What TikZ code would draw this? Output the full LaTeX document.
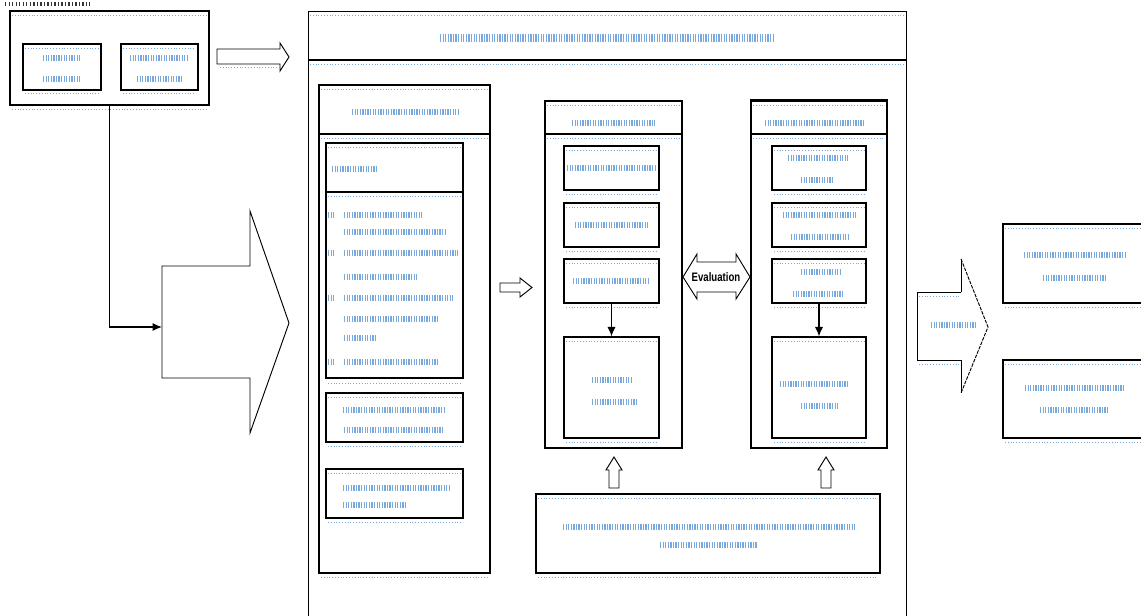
\documentclass[tikz,border=0pt]{standalone}
\usepackage{fontspec}
\setmainfont{Liberation Sans}
\newfontfamily\evfont{Liberation Sans}[FakeStretch=0.78]
\usetikzlibrary{arrows.meta,fit,calc}
\definecolor{garbc}{RGB}{120,168,222}
\newcommand\gbl[3]{\draw[garb] (#1,#3) -- (#2,#3);}
\newcommand\edd[3]{\draw[edot] (#1,#3) -- (#2,#3);}
\begin{document}
\begin{tikzpicture}[x=0.03cm,y=-0.03cm,
  box/.style={draw=black, line width=1.1pt, inner sep=0pt},
  thinbox/.style={draw=black, line width=0.8pt, inner sep=0pt},
  hollow/.style={draw=black, line width=0.8pt, fill=white, line join=miter},
  conn/.style={draw=black, line width=1.1pt, -{Latex[length=8pt,width=7pt]}},
  garb/.style={draw=garbc, line width=5.5pt, dash pattern=on 1.1pt off 1.1pt},
  dk/.style={draw=black!80, line width=3pt, dash pattern=on 1.2pt off 1.8pt},
  edot/.style={draw=garbc, line width=0.7pt, dash pattern=on 0.8pt off 1.6pt}]
\useasboundingbox (0,0) rectangle (1141,616);

% ---------- top-left group ----------
\draw[dk] (5,4) -- (90,4);
\node[box, fit={(10,11)(209,105)}] (tl) {};
\node[box, fit={(23,44)(101,90)}] (ta) {};
\node[box, fit={(121,44)(198,90)}] (tb) {};
\edd{12}{207}{15} \edd{12}{207}{109}
\edd{25}{99}{48} \edd{123}{196}{48} \edd{123}{196}{93} \edd{25}{99}{93}
\gbl{43}{81}{58} \gbl{43}{81}{79}
\gbl{130}{188}{58} \gbl{137}{181}{79}

\draw[hollow] (217,49) -- (280,49) -- (280,43) -- (289,57) -- (280,71) -- (280,64) -- (217,64) -- cycle;
\edd{220}{280}{67}

% big left arrow
\draw[hollow] (162,266) -- (250,266) -- (250,211) -- (289,323) -- (250,433) -- (250,378) -- (162,378) -- cycle;
\coordinate (bigL) at (162,327);
\draw[conn] (tl.south) |- (bigL);

% ---------- main box ----------
\node[thinbox, fit={(308,11)(906,622)}] (main) {};
\draw[box] (main.west |- 0,60) -- (main.east |- 0,60);
\edd{310}{904}{15} \edd{310}{904}{64}
\draw[garb, line width=7pt] (440,38) -- (775,38);

% left column
\node[box, fit={(319,85)(490,573)}] (lc) {};
\draw[box] (lc.west |- 0,134) -- (lc.east |- 0,134);
\edd{321}{488}{89} \edd{321}{488}{138} \edd{321}{488}{577}
\gbl{352}{458}{112}
\node[box, fit={(326,143)(463,378)}] (lb) {};
\draw[box] (lb.west |- 0,192) -- (lb.east |- 0,192);
\edd{328}{461}{147} \edd{328}{461}{196} \edd{328}{461}{383}
\gbl{332}{378}{169}
\gbl{344}{422}{215} \gbl{344}{445}{232} \gbl{344}{458}{253} \gbl{344}{418}{277}
\gbl{344}{453}{298} \gbl{344}{437}{319} \gbl{344}{376}{338} \gbl{344}{437}{362}
\gbl{328}{334}{215} \gbl{328}{334}{253} \gbl{328}{334}{298} \gbl{328}{334}{362}
\node[box, fit={(326,393)(463,442)}] (lc2) {};
\edd{328}{461}{397} \edd{328}{461}{446}
\gbl{343}{444}{410} \gbl{344}{444}{430}
\node[box, fit={(326,469)(463,518)}] (lc3) {};
\edd{328}{461}{473} \edd{328}{461}{522}
\gbl{343}{449}{488} \gbl{343}{406}{505}

% small arrow left -> middle
\draw[hollow] (500,283) -- (520,283) -- (520,278) -- (532,287.5) -- (520,297) -- (520,292) -- (500,292) -- cycle;

% middle column
\node[box, fit={(545,101)(682,448)}] (mc) {};
\draw[box] (mc.west |- 0,134) -- (mc.east |- 0,134);
\edd{547}{680}{105} \edd{547}{680}{138}
\gbl{572}{655}{123}
\node[box, fit={(564,146)(659,190)}] (m1) {};
\node[box, fit={(564,203)(659,247)}] (m2) {};
\node[box, fit={(564,259)(659,303)}] (m3) {};
\node[box, fit={(564,337)(659,438)}] (m4) {};
\edd{566}{657}{150} \edd{566}{657}{194} \edd{566}{657}{207} \edd{566}{657}{251}
\edd{566}{657}{263} \edd{566}{657}{307} \edd{566}{657}{341} \edd{566}{657}{442}
\gbl{567}{657}{168} \gbl{575}{648}{225} \gbl{573}{650}{281}
\gbl{592}{632}{380} \gbl{592}{636}{402}
\draw[conn] (m3) -- (m4);

% right column
\node[box, fit={(751,101)(887,448)}] (rc) {};
\draw[line width=2.2pt] (rc.north west) -- (rc.north east);
\draw[box] (rc.west |- 0,134) -- (rc.east |- 0,134);
\edd{753}{885}{105} \edd{753}{885}{138}
\gbl{765}{863}{123}
\node[box, fit={(772,146)(866,190)}] (r1) {};
\node[box, fit={(772,203)(866,247)}] (r2) {};
\node[box, fit={(772,259)(866,303)}] (r3) {};
\node[box, fit={(772,337)(866,438)}] (r4) {};
\edd{774}{864}{150} \edd{774}{864}{194} \edd{774}{864}{207} \edd{774}{864}{251}
\edd{774}{864}{263} \edd{774}{864}{307} \edd{774}{864}{341} \edd{774}{864}{442}
\gbl{788}{848}{158} \gbl{801}{832}{180}
\gbl{783}{857}{215} \gbl{791}{848}{237}
\gbl{801}{842}{272} \gbl{793}{843}{294}
\gbl{780}{848}{384} \gbl{801}{838}{406}
\draw[conn] (r3) -- (r4);

% evaluation double arrow
\draw[hollow] (697,262) -- (736,262) -- (736,254) -- (750,277) -- (736,299) -- (736,292) -- (697,292) -- (697,299) -- (683,277) -- (697,254) -- cycle;
\node[font=\evfont\bfseries\fontsize{10.5}{12}\selectfont, inner sep=0pt] (ev) at (716,277) {Evaluation};

% bottom box and up arrows
\node[box, fit={(536,494)(880,573)}] (bt) {};
\edd{538}{878}{498} \edd{538}{878}{577}
\gbl{563}{855}{527} \gbl{660}{757}{545}
\draw[hollow] (609,488) -- (609,470) -- (606,470) -- (614,457) -- (622,470) -- (619,470) -- (619,488) -- cycle;
\draw[hollow] (821,488) -- (821,470) -- (818,470) -- (826,457) -- (834,470) -- (831,470) -- (831,488) -- cycle;

% ---------- right side ----------
\draw[hollow, fill=white] (961,292) -- (917,292) -- (917,360) -- (961,360);
\draw[line width=0.8pt] (961,292) -- (961,259);
\draw[line width=0.8pt] (961,360) -- (961,393);
\draw[line width=0.8pt, dash pattern=on 3pt off 1pt] (961,259) -- (988,327) -- (961,393);
\edd{919}{959}{296} \edd{919}{959}{364}
\gbl{931}{975}{325}

\node[box, fit={(1003,224)(1150,303)}] (o1) {};
\node[box, fit={(1003,360)(1150,438)}] (o2) {};
\edd{1005}{1141}{228} \edd{1005}{1141}{307} \edd{1005}{1141}{364} \edd{1005}{1141}{442}
\gbl{1024}{1125}{255} \gbl{1043}{1106}{278}
\gbl{1025}{1123}{388} \gbl{1040}{1108}{410}
\end{tikzpicture}
\end{document}
